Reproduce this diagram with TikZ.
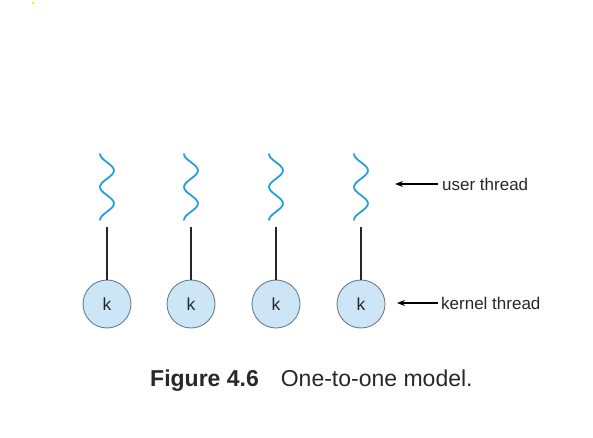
\documentclass[tikz,border=0pt]{standalone}
\usepackage{fontspec}
\setmainfont{Liberation Sans}
\usetikzlibrary{arrows.meta}
\definecolor{kfill}{RGB}{204,229,247}
\definecolor{kdraw}{RGB}{110,125,140}
\definecolor{wavec}{RGB}{38,160,220}
\definecolor{txt}{RGB}{40,40,40}
\tikzset{
  kcirc/.style={circle, draw=kdraw, fill=kfill, line width=0.9pt, minimum size=48pt, inner sep=0pt, text=txt, font=\fontsize{17.5}{20}\selectfont},
  wave/.style={draw=wavec, line width=1.8pt, line cap=round},
  link/.style={draw=black!85, line width=1.3pt},
  lab/.style={font=\fontsize{17}{20}\selectfont, text=txt, anchor=west, inner sep=0pt},
  pointer/.style={draw=black, line width=1.2pt, -{Stealth[length=8pt,width=6pt]}},
}
\begin{document}
\begin{tikzpicture}[x=1pt,y=-1pt]
\useasboundingbox (0,0) rectangle (593,438);
\fill[white] (0,0) rectangle (593,438);
\fill[yellow!90!orange] (33,3) circle (1.3);
\foreach \i/\cx in {1/107,2/191,3/276,4/361}{
  \node[kcirc] (k\i) at (\cx,304) {k};
  \draw[wave] (\cx-7,154)
    .. controls (\cx-7,160) and (\cx+7,164.5) .. (\cx+7,170.5)
    .. controls (\cx+7,176.5) and (\cx-7,181) .. (\cx-7,187)
    .. controls (\cx-7,193) and (\cx+7,197.5) .. (\cx+7,203.5)
    .. controls (\cx+7,209.5) and (\cx-7,214) .. (\cx-7,220);
  \coordinate (w\i) at (\cx,227);
  \draw[link] (w\i) -- (k\i.north);
}
\node[lab] (ut) at (442,184) {user thread};
\coordinate (uta) at (395,184);
\draw[pointer] (ut.west) ++(-4,0) -- (uta);
\node[lab] (kt) at (441,303) {kernel thread};
\coordinate (kta) at (397,303);
\draw[pointer] (kt.west) ++(-3,0) -- (kta);
\node[font=\fontsize{23}{26}\selectfont, text=txt, anchor=west, inner sep=0pt] (cap) at (150,381) {\textbf{Figure 4.6}\hspace{22pt}One-to-one model.};
\end{tikzpicture}
\end{document}
